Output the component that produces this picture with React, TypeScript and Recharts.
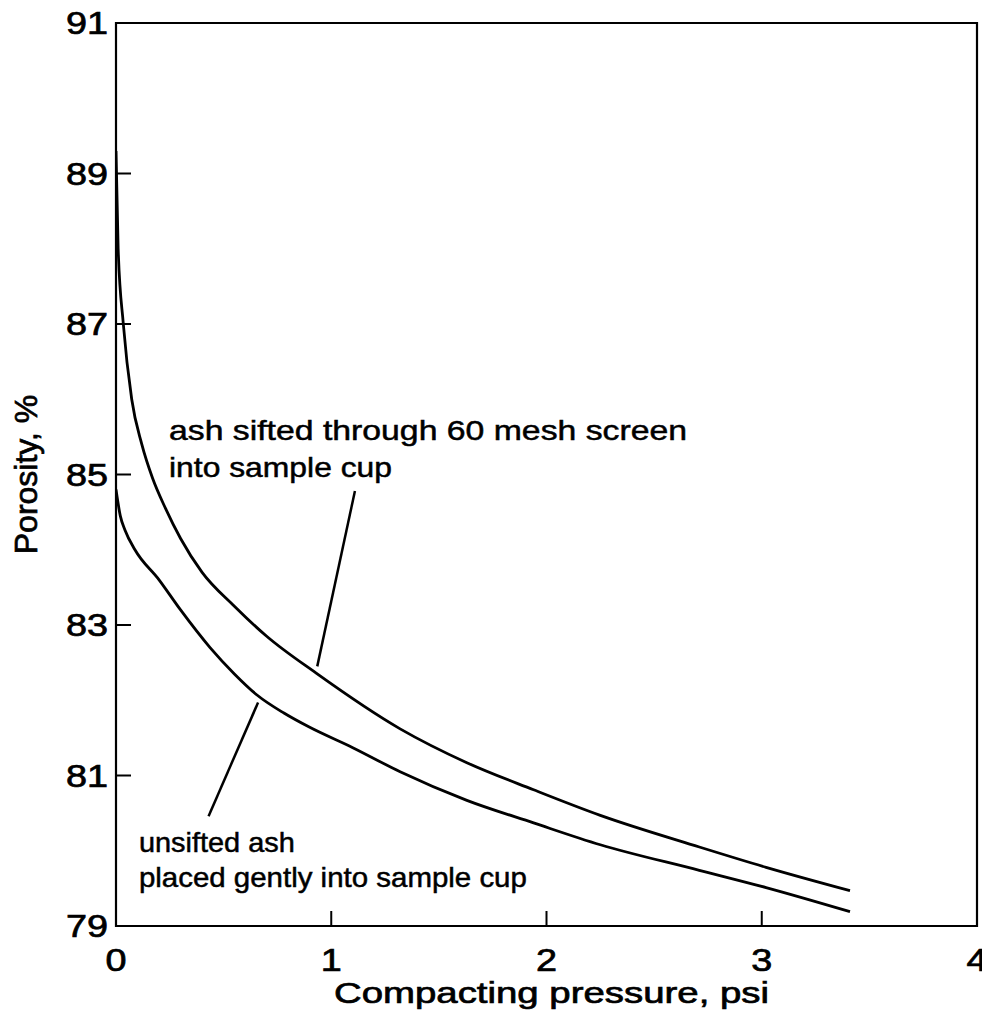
import { LineChart, Line, XAxis, YAxis, ReferenceArea, ReferenceLine, ReferenceDot } from "recharts";

// axis ticks
const X_TICKS = [0, 1, 2, 3, 4];
const Y_TICKS = [79, 81, 83, 85, 87, 89, 91];

// ash sifted through 60 mesh screen
const SIFTED_PRESSURE = [0, 0.01, 0.034, 0.073, 0.12, 0.17, 0.23, 0.3, 0.4, 0.55, 0.7, 0.93, 1.32, 1.63, 1.94, 2.25, 2.71, 3.02, 3.41];
const SIFTED_POROSITY = [89.3, 88.0, 87.0, 86.0, 85.4, 84.95, 84.55, 84.15, 83.7, 83.25, 82.85, 82.36, 81.62, 81.17, 80.81, 80.47, 80.05, 79.78, 79.47];

// unsifted ash placed gently
const UNSIFTED_PRESSURE = [0, 0.02, 0.042, 0.088, 0.2, 0.3, 0.437, 0.55, 0.655, 0.78, 0.9, 1.1, 1.32, 1.63, 1.94, 2.25, 2.71, 3.02, 3.41];
const UNSIFTED_POROSITY = [84.8, 84.45, 84.26, 84.0, 83.6, 83.2, 82.7, 82.35, 82.07, 81.83, 81.64, 81.37, 81.05, 80.67, 80.37, 80.08, 79.74, 79.51, 79.19];

const sifted = SIFTED_PRESSURE.map((p, i) => ({ p, v: SIFTED_POROSITY[i] }));
const unsifted = UNSIFTED_PRESSURE.map((p, i) => ({ p, v: UNSIFTED_POROSITY[i] }));

const FONT = "'Liberation Sans', Arial, Helvetica, sans-serif";
const TICK_MARGIN = 10;
const INNER_TICK = 15;
// scanned original has heavy type; a thin outline thickens the glyphs a bit
const INK = { fill: "#000", stroke: "#000", strokeWidth: 0.7 };

function Stretch({ x, y, anchor = "start", size, sx = 1, children }: any) {
  return (
    <text
      transform={`translate(${x},${y}) scale(${sx},1)`}
      textAnchor={anchor}
      fontSize={size}
      fontFamily={FONT}
      {...INK}
    >
      {children}
    </text>
  );
}

function YTick({ x, y, payload }: any) {
  const axisX = x + TICK_MARGIN;
  const edge = payload.value === 79 || payload.value === 91;
  return (
    <g>
      {!edge && <line x1={axisX} y1={y} x2={axisX + INNER_TICK} y2={y} stroke="#000" strokeWidth={2} />}
      <Stretch x={axisX - 8} y={y + 11} anchor="end" size={31} sx={1.22}>
        {payload.value}
      </Stretch>
    </g>
  );
}

function XTick({ x, y, payload }: any) {
  const axisY = y - TICK_MARGIN;
  const edge = payload.value === 0 || payload.value === 4;
  return (
    <g>
      {!edge && <line x1={x} y1={axisY} x2={x} y2={axisY - INNER_TICK} stroke="#000" strokeWidth={2} />}
      <Stretch x={x} y={axisY + 45} anchor="middle" size={31} sx={1.22}>
        {payload.value}
      </Stretch>
    </g>
  );
}

// two-line annotation, each line fitted to the width it has in the figure
function Note({ lines, widths, gap }: { lines: string[]; widths: number[]; gap: number }) {
  return (props: any) => {
    const { x, y } = props.viewBox;
    return (
      <g>
        {lines.map((t, i) => (
          <text
            key={i}
            x={x}
            y={y + i * gap}
            fontSize={28}
            fontFamily={FONT}
            {...INK}
            strokeWidth={0.5}
            textLength={widths[i]}
            lengthAdjust="spacingAndGlyphs"
          >
            {t}
          </text>
        ))}
      </g>
    );
  };
}

export default function App() {
  return (
    <div style={{ width: 990, height: 1024, margin: "-8px 0 0 -8px", background: "#fff" }}>
      <LineChart width={990} height={1024} margin={{ top: 23, right: 13, bottom: 0, left: 56 }}>
        <XAxis
          dataKey="p"
          type="number"
          domain={[0, 4]}
          ticks={X_TICKS}
          interval={0}
          allowDataOverflow
          axisLine={false}
          tickLine={false}
          tickSize={0}
          tickMargin={TICK_MARGIN}
          height={98}
          tick={<XTick />}
          label={{
            content: (props: any) => {
              const { x, y, width } = props.viewBox;
              return (
                <Stretch x={x + width / 2 + 5} y={y + 77} anchor="middle" size={30} sx={1.28}>
                  Compacting pressure, psi
                </Stretch>
              );
            },
          }}
        />
        <YAxis
          dataKey="v"
          type="number"
          domain={[79, 91]}
          ticks={Y_TICKS}
          interval={0}
          allowDataOverflow
          axisLine={false}
          tickLine={false}
          tickSize={0}
          tickMargin={TICK_MARGIN}
          width={60}
          tick={<YTick />}
          label={{
            content: (props: any) => {
              const { y, height } = props.viewBox;
              const cx = 37;
              const cy = y + height / 2;
              return (
                <text
                  transform={`translate(${cx},${cy}) rotate(-90)`}
                  textAnchor="middle"
                  fontSize={32}
                  fontFamily={FONT}
                  {...INK}
                >
                  Porosity, %
                </text>
              );
            },
          }}
        />
        <ReferenceArea x1={0} x2={4} y1={79} y2={91} fill="none" stroke="#000" strokeWidth={2.2} />
        <Line data={sifted} dataKey="v" type="monotone" stroke="#000" strokeWidth={2.8} dot={false} isAnimationActive={false} />
        <Line data={unsifted} dataKey="v" type="monotone" stroke="#000" strokeWidth={2.8} dot={false} isAnimationActive={false} />
        <ReferenceLine segment={[{ x: 1.11, y: 84.78 }, { x: 0.935, y: 82.45 }]} stroke="#000" strokeWidth={2.5} />
        <ReferenceLine segment={[{ x: 0.66, y: 81.97 }, { x: 0.43, y: 80.46 }]} stroke="#000" strokeWidth={2.5} />
        <ReferenceDot
          x={0.251}
          y={85.445}
          r={1}
          fill="none"
          stroke="none"
          label={{
            content: Note({
              lines: ["ash sifted through 60 mesh screen", "into sample cup"],
              widths: [518, 223],
              gap: 37,
            }),
          }}
        />
        <ReferenceDot
          x={0.111}
          y={79.97}
          r={1}
          fill="none"
          stroke="none"
          label={{
            content: Note({
              lines: ["unsifted ash", "placed gently into sample cup"],
              widths: [156, 388],
              gap: 35,
            }),
          }}
        />
      </LineChart>
    </div>
  );
}
